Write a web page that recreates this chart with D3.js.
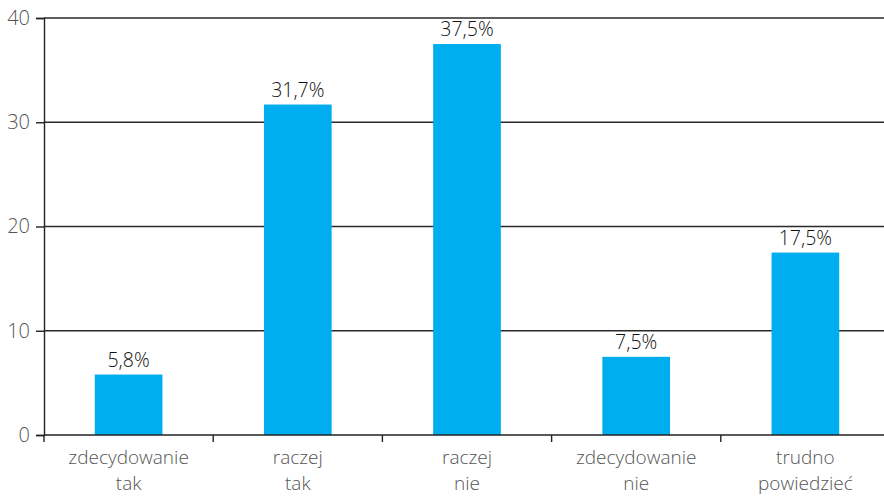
<!DOCTYPE html>
<html>
<head>
<meta charset="utf-8">
<script src="https://cdn.jsdelivr.net/npm/d3@7"></script>
<style>
  body { margin: 0; background: #fff; }
  svg { display: block; font-family: 'Open Sans', 'Noto Sans', sans-serif; }
</style>
</head>
<body>
<svg id="chart" width="884" height="496"></svg>
<script>
'use strict'

/****** DATA ******/

const categories = ['zdecydowanie tak', 'raczej tak', 'raczej nie', 'zdecydowanie nie', 'trudno powiedzieć']
const categoryLines = [['zdecydowanie', 'tak'], ['raczej', 'tak'], ['raczej', 'nie'], ['zdecydowanie', 'nie'], ['trudno', 'powiedzieć']]
const values = [5.8, 31.7, 37.5, 7.5, 17.5]
const valueLabels = ['5,8%', '31,7%', '37,5%', '7,5%', '17,5%']
const yTicks = [0, 10, 20, 30, 40]

/****** CHART ******/

const margin = {top: 18, right: -6, bottom: 61, left: 44}
const svg = d3.select('#chart')
const width = 884 - margin.left - margin.right,
      height = 496 - margin.top - margin.bottom

const x = d3.scaleBand()
  .domain(categories)
  .range([0, width])
  .paddingInner(0.6)
  .paddingOuter(0.3)

const y = d3.scaleLinear()
  .domain([0, 40])
  .range([height, 0])

const chart = svg.append('g')
  .attr('transform', `translate(${margin.left},${margin.top})`)

// gridlines
chart.append('g')
  .selectAll('line')
  .data(yTicks.filter(d => d > 0))
  .join('line')
    .attr('x1', 0)
    .attr('x2', width)
    .attr('y1', d => y(d))
    .attr('y2', d => y(d))
    .attr('stroke', '#2a2a2a')
    .attr('stroke-width', 1.4)

// bars
chart.append('g')
  .selectAll('rect')
  .data(values)
  .join('rect')
    .attr('x', (d, i) => x(categories[i]))
    .attr('y', d => y(d))
    .attr('width', x.bandwidth())
    .attr('height', d => y(0) - y(d))
    .attr('fill', '#00aeef')

// value labels
chart.append('g')
  .selectAll('text')
  .data(values)
  .join('text')
    .attr('x', (d, i) => x(categories[i]) + x.bandwidth() / 2)
    .attr('y', d => y(d) - 8)
    .attr('text-anchor', 'middle')
    .attr('font-size', 19.5)
    .attr('font-weight', 300)
    .attr('fill', '#111')
    .text((d, i) => valueLabels[i])

// y axis
const yAxis = chart.append('g')
  .call(d3.axisLeft(y).tickValues(yTicks).tickSize(8).tickPadding(6))
yAxis.select('.domain').attr('stroke', '#222').attr('stroke-width', 1.4)
yAxis.selectAll('.tick line').attr('stroke', '#222').attr('stroke-width', 1.4)
yAxis.selectAll('.tick text')
  .attr('font-size', 20)
  .attr('font-family', "'Open Sans', sans-serif")
  .attr('font-weight', 300)
  .attr('fill', '#555')

// x axis (baseline with ticks at category boundaries)
const step = x.step()
const boundaries = d3.range(categories.length + 1).map(i => i * step)
chart.append('line')
  .attr('x1', 0).attr('x2', width)
  .attr('y1', y(0)).attr('y2', y(0))
  .attr('stroke', '#222').attr('stroke-width', 1.4)
chart.append('g')
  .selectAll('line')
  .data(boundaries)
  .join('line')
    .attr('x1', d => d).attr('x2', d => d)
    .attr('y1', y(0)).attr('y2', y(0) + 7)
    .attr('stroke', '#222').attr('stroke-width', 1.4)

// category labels, two lines each
const catLabels = chart.append('g')
  .selectAll('text')
  .data(categoryLines)
  .join('text')
    .attr('text-anchor', 'middle')
    .attr('font-size', 19)
    .attr('font-weight', 300)
    .attr('fill', '#555')
    .attr('transform', (d, i) => `translate(${x(categories[i]) + x.bandwidth() / 2},${y(0) + 29})`)
catLabels.selectAll('tspan')
  .data(d => d)
  .join('tspan')
    .attr('x', 0)
    .attr('dy', (d, i) => i === 0 ? 0 : 26)
    .text(d => d)
</script>
</body>
</html>
